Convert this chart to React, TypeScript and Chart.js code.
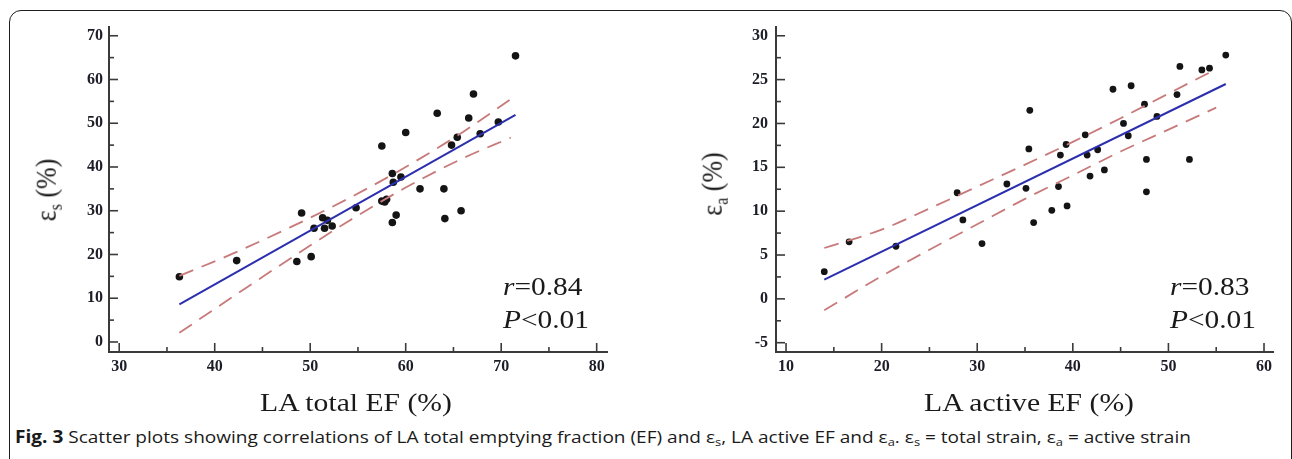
import React, { useEffect, useRef } from "react";
import { Chart, registerables } from "chart.js";

Chart.register(...registerables);

// ---------- Left panel: LA total EF vs εs ----------
const totalEF = [36.3, 42.3, 48.6, 50.1, 49.1, 51.3, 51.8, 50.4, 51.5, 52.3, 54.8, 57.5, 58.0, 57.8, 58.6, 59.0, 58.7, 58.6, 59.5, 61.5, 64.0, 64.1, 65.8, 57.5, 60.0, 63.3, 64.8, 65.4, 66.6, 67.8, 69.7, 67.1, 71.5];
const totalStrain = [14.9, 18.6, 18.4, 19.5, 29.5, 28.4, 27.8, 26.0, 26.0, 26.5, 30.7, 32.2, 32.6, 32.0, 27.3, 29.0, 36.5, 38.5, 37.7, 35.0, 35.0, 28.2, 30.0, 44.8, 47.9, 52.3, 45.0, 46.8, 51.2, 47.6, 50.3, 56.7, 65.4];
const totalFitX = [36.3, 71.5];
const totalFitY = [8.6, 51.9];
const totalBandX = [36.3, 42, 48, 54, 60, 66, 71];
const totalBandUpper = [15.1, 20.3, 26.3, 32.8, 40.0, 48.0, 55.5];
const totalBandLower = [2.1, 10.5, 19.2, 27.6, 35.3, 42.0, 46.7];
const totalXTicks = [30, 40, 50, 60, 70, 80];
const totalXMinor = [35, 45, 55, 65, 75];
const totalYTicks = [0, 10, 20, 30, 40, 50, 60, 70];
const totalYMinor = [5, 15, 25, 35, 45, 55, 65];

// ---------- Right panel: LA active EF vs εa ----------
const activeEF = [14.0, 16.6, 21.5, 27.9, 28.5, 30.5, 33.1, 35.1, 35.9, 35.4, 35.5, 37.8, 38.5, 38.7, 39.3, 39.4, 41.3, 41.5, 41.8, 42.6, 43.3, 44.2, 45.3, 45.8, 46.1, 47.5, 47.7, 47.7, 48.8, 50.9, 51.2, 52.2, 53.5, 54.3, 56.0];
const activeStrain = [3.1, 6.5, 6.0, 12.1, 9.0, 6.3, 13.1, 12.6, 8.7, 17.1, 21.5, 10.1, 12.8, 16.4, 17.6, 10.6, 18.7, 16.4, 14.0, 17.0, 14.7, 23.9, 20.0, 18.6, 24.3, 22.2, 15.9, 12.2, 20.8, 23.3, 26.5, 15.9, 26.1, 26.3, 27.8];
const activeFitX = [14.0, 56.0];
const activeFitY = [2.2, 24.5];
const activeBandX = [14, 20, 25, 30, 35, 40, 45, 50, 55];
const activeBandUpper = [5.8, 7.9, 10.3, 12.8, 15.3, 17.9, 20.6, 23.4, 26.2];
const activeBandLower = [-1.3, 2.6, 5.6, 8.5, 11.4, 14.1, 16.8, 19.3, 21.8];
const activeXTicks = [10, 20, 30, 40, 50, 60];
const activeXMinor = [15, 25, 35, 45, 55];
const activeYTicks = [-5, 0, 5, 10, 15, 20, 25, 30];
const activeYMinor = [-2.5, 2.5, 7.5, 12.5, 17.5, 22.5, 27.5];

const AXIS = "#3a3a3a";
const BLUE = "#2b2fae";
const DASH = "#c87a7a";
const DOT = "#141414";
const SERIF = "'Liberation Serif', 'DejaVu Serif', serif";

function pts(xs: number[], ys: number[]) {
  return xs.map((x, i) => ({ x, y: ys[i] }));
}

function tickPlugin(xMaj: number[], xMin: number[], yMaj: number[], yMin: number[]) {
  return {
    id: "inwardTicks",
    afterDraw(chart: any) {
      const { ctx, chartArea } = chart;
      const xs = chart.scales.x;
      const ys = chart.scales.y;
      ctx.save();
      ctx.strokeStyle = AXIS;
      ctx.lineWidth = 1.6;
      const seg = (x1: number, y1: number, x2: number, y2: number) => {
        ctx.beginPath();
        ctx.moveTo(x1, y1);
        ctx.lineTo(x2, y2);
        ctx.stroke();
      };
      xMaj.forEach((v) => { const p = xs.getPixelForValue(v); seg(p, chartArea.bottom, p, chartArea.bottom - 9); });
      xMin.forEach((v) => { const p = xs.getPixelForValue(v); seg(p, chartArea.bottom, p, chartArea.bottom - 5); });
      yMaj.forEach((v) => { const p = ys.getPixelForValue(v); seg(chartArea.left, p, chartArea.left + 9, p); });
      yMin.forEach((v) => { const p = ys.getPixelForValue(v); seg(chartArea.left, p, chartArea.left + 5, p); });
      ctx.restore();
    },
  };
}

function buildConfig(p: {
  px: number[]; py: number[]; fx: number[]; fy: number[];
  bx: number[]; bu: number[]; bl: number[];
  xTicks: number[]; xMinor: number[]; yTicks: number[]; yMinor: number[];
  xMin: number; xMax: number; yMin: number; yMax: number;
  yWidth: number; xHeight: number; padRight: number; padTop: number;
  yPad: number; xPad: number; dotR: number;
}) {
  const tickFont = { family: SERIF, size: 16, weight: "bold" as const };
  return {
    type: "scatter" as const,
    data: {
      datasets: [
        { data: pts(p.bx, p.bu), showLine: true, borderColor: DASH, borderWidth: 1.8, borderDash: [15, 9], pointRadius: 0, cubicInterpolationMode: "monotone" as const, order: 1 },
        { data: pts(p.bx, p.bl), showLine: true, borderColor: DASH, borderWidth: 1.8, borderDash: [15, 9], pointRadius: 0, cubicInterpolationMode: "monotone" as const, order: 1 },
        { data: pts(p.fx, p.fy), showLine: true, borderColor: BLUE, borderWidth: 2, pointRadius: 0, order: 2 },
        { data: pts(p.px, p.py), pointRadius: p.dotR, backgroundColor: DOT, borderWidth: 0, order: 3 },
      ],
    },
    options: {
      animation: false as const,
      responsive: false,
      devicePixelRatio: 1,
      events: [],
      layout: { padding: { left: 0, top: p.padTop, right: p.padRight, bottom: 0 } },
      plugins: { legend: { display: false }, tooltip: { enabled: false } },
      scales: {
        x: {
          type: "linear" as const,
          min: p.xMin,
          max: p.xMax,
          grid: { display: false, drawTicks: false },
          border: { display: true, color: AXIS, width: 2 },
          afterBuildTicks: (s: any) => { s.ticks = p.xTicks.map((v) => ({ value: v })); },
          afterFit: (s: any) => { s.height = p.xHeight; },
          ticks: { font: tickFont, color: "#1d1d28", padding: p.xPad, maxRotation: 0, callback: (v: any) => String(v) },
        },
        y: {
          type: "linear" as const,
          min: p.yMin,
          max: p.yMax,
          grid: { display: false, drawTicks: false },
          border: { display: true, color: AXIS, width: 2 },
          afterBuildTicks: (s: any) => { s.ticks = p.yTicks.map((v) => ({ value: v })); },
          afterFit: (s: any) => { s.width = p.yWidth; },
          ticks: { font: tickFont, color: "#1d1d28", padding: p.yPad, callback: (v: any) => String(v) },
        },
      },
    },
    plugins: [tickPlugin(p.xTicks, p.xMinor, p.yTicks, p.yMinor)],
  };
}

export default function App() {
  const leftRef = useRef<HTMLCanvasElement>(null);
  const rightRef = useRef<HTMLCanvasElement>(null);

  useEffect(() => {
    const c1 = new Chart(leftRef.current as HTMLCanvasElement, buildConfig({
      px: totalEF, py: totalStrain, fx: totalFitX, fy: totalFitY,
      bx: totalBandX, bu: totalBandUpper, bl: totalBandLower,
      xTicks: totalXTicks, xMinor: totalXMinor, yTicks: totalYTicks, yMinor: totalYMinor,
      xMin: 28.93, xMax: 81.08, yMin: -2.29, yMax: 72,
      yWidth: 109, xHeight: 48, padRight: 43, padTop: 27, yPad: 6, xPad: 5, dotR: 3.8,
    }) as any);
    const c2 = new Chart(rightRef.current as HTMLCanvasElement, buildConfig({
      px: activeEF, py: activeStrain, fx: activeFitX, fy: activeFitY,
      bx: activeBandX, bu: activeBandUpper, bl: activeBandLower,
      xTicks: activeXTicks, xMinor: activeXMinor, yTicks: activeYTicks, yMinor: activeYMinor,
      xMin: 8.95, xMax: 60.94, yMin: -6.06, yMax: 31,
      yWidth: 126, xHeight: 48, padRight: 19, padTop: 27, yPad: 8, xPad: 5, dotR: 3.4,
    }) as any);
    return () => { c1.destroy(); c2.destroy(); };
  }, []);

  const abs = (s: React.CSSProperties): React.CSSProperties => ({ position: "absolute", whiteSpace: "nowrap", ...s });
  const serifText: React.CSSProperties = { fontFamily: SERIF, color: "#1a1a1a", lineHeight: "26px" };
  const capSub: React.CSSProperties = { fontSize: 11.5, verticalAlign: "-3px", lineHeight: 0 };

  return (
    <div style={{ position: "absolute", left: 0, top: 0, width: 1292, height: 459, overflow: "hidden", background: "#fff" }}>
      <div style={{ position: "absolute", left: 9, top: 10, width: 1283, height: 490, border: "1.5px solid #1e1e1e", borderRadius: 12, boxSizing: "border-box" }} />
      <canvas ref={leftRef} width={650} height={400} style={{ position: "absolute", left: 0, top: 0 }} />
      <canvas ref={rightRef} width={642} height={400} style={{ position: "absolute", left: 650, top: 0 }} />

      {/* y-axis titles */}
      <div style={abs({ ...serifText, fontSize: 26, left: 47, top: 190, transform: "translate(-50%,-50%) rotate(-90deg) scaleY(1.15)" })}>
        ε<sub style={{ fontSize: 16, verticalAlign: "-5px", lineHeight: 0 }}>s</sub> (%)
      </div>
      <div style={abs({ ...serifText, fontSize: 26, left: 713, top: 184, transform: "translate(-50%,-50%) rotate(-90deg) scaleY(1.15)" })}>
        ε<sub style={{ fontSize: 16, verticalAlign: "-5px", lineHeight: 0 }}>a</sub> (%)
      </div>

      {/* x-axis titles */}
      <div style={abs({ ...serifText, fontSize: 26, left: 356, top: 390, transform: "translateX(-50%) scaleX(1.14)" })}>LA total EF (%)</div>
      <div style={abs({ ...serifText, fontSize: 26, left: 1029, top: 390, transform: "translateX(-50%) scaleX(1.14)" })}>LA active EF (%)</div>

      {/* statistics */}
      <div style={abs({ ...serifText, fontSize: 26, left: 503, top: 274, transformOrigin: "left center", transform: "scaleX(1.13)" })}><i>r</i>=0.84</div>
      <div style={abs({ ...serifText, fontSize: 26, left: 503, top: 307, transformOrigin: "left center", transform: "scaleX(1.13)" })}><i>P</i>&lt;0.01</div>
      <div style={abs({ ...serifText, fontSize: 26, left: 1170, top: 274, transformOrigin: "left center", transform: "scaleX(1.13)" })}><i>r</i>=0.83</div>
      <div style={abs({ ...serifText, fontSize: 26, left: 1170, top: 307, transformOrigin: "left center", transform: "scaleX(1.13)" })}><i>P</i>&lt;0.01</div>

      {/* caption */}
      <div style={abs({ left: 15, top: 426, fontFamily: "'Open Sans', 'Noto Sans', sans-serif", fontSize: 17, lineHeight: "22px", color: "#1a1a1a", transformOrigin: "left center", transform: "scaleX(1.12)" })}>
        <b>Fig. 3</b> Scatter plots showing correlations of LA total emptying fraction (EF) and ε
        <sub style={capSub}>s</sub>, LA active EF and ε
        <sub style={capSub}>a</sub>. ε
        <sub style={capSub}>s</sub> = total strain, ε
        <sub style={capSub}>a</sub> = active strain
      </div>
    </div>
  );
}
